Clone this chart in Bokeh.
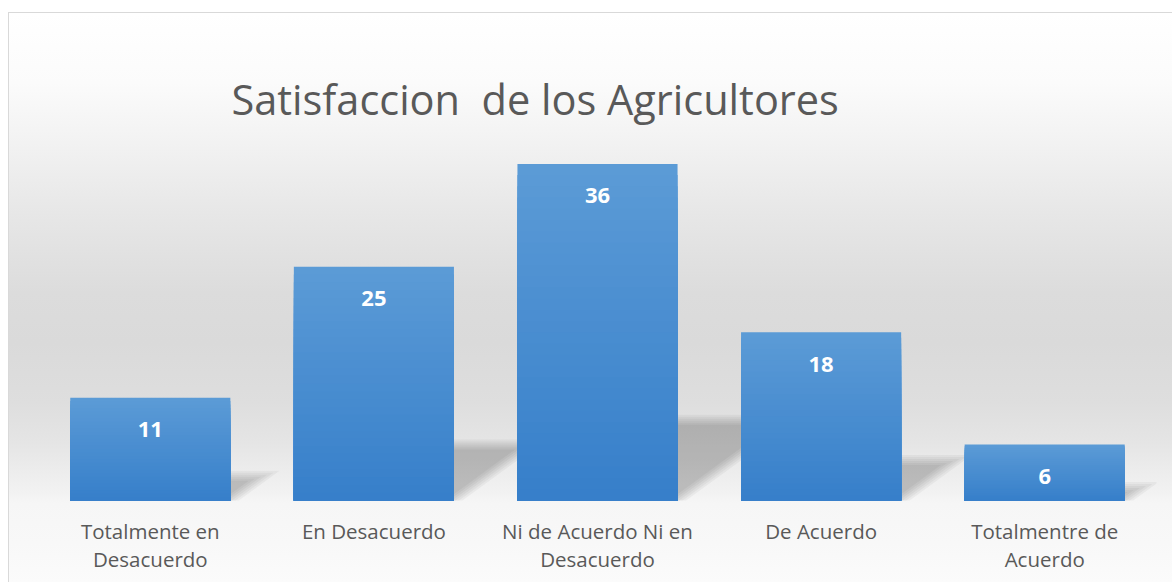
from bokeh.plotting import figure
from bokeh.models import FactorRange, Range1d, ColumnDataSource
from bokeh.core.properties import value
from bokeh.embed import file_html
from bokeh.resources import INLINE

categories = ["Totalmente en Desacuerdo", "En Desacuerdo", "Ni de Acuerdo Ni en Desacuerdo",
              "De Acuerdo", "Totalmentre de Acuerdo"]
tick_labels = ["Totalmente en\nDesacuerdo", "En Desacuerdo", "Ni de Acuerdo Ni en\nDesacuerdo",
               "De Acuerdo", "Totalmentre de\nAcuerdo"]
values = [11, 25, 36, 18, 6]
title_text = "Satisfaccion\u00a0 de los Agricultores"

W, H = 1172, 582
bg = ("linear-gradient(#d9d9d9,#d9d9d9) 8px 12px/100% 1px no-repeat,"
      "linear-gradient(#d9d9d9,#d9d9d9) 8px 12px/1px 100% no-repeat,"
      "linear-gradient(to bottom,#ffffff 0px,#fbfbfb 70px,#f2f2f2 130px,#e7e7e7 200px,"
      "#dcdcdc 280px,#dadada 330px,#dedede 390px,#e5e5e5 430px,#ededed 460px,#f2f2f2 480px,"
      "#f6f6f6 490px,#f8f8f8 530px,#fbfbfb 569px) 8px 13px/100% 100% no-repeat, #ffffff")

ppu = (500 - 126) / 40.0      # pixels per value unit
ppc = (1172 - 38 - 16) / 5.0  # pixels per category
p = figure(x_range=FactorRange(*categories, range_padding=0),
           y_range=Range1d(-(582 - 500) / ppu, 40),
           width=W, height=H, output_backend="svg", toolbar_location=None,
           min_border_left=38, min_border_right=16, min_border_top=126, min_border_bottom=0,
           styles={"background": bg})
p.border_fill_alpha = 0
p.background_fill_alpha = 0
p.outline_line_color = None
p.grid.visible = False
p.yaxis.visible = False
p.xaxis.visible = False

p.title.text = title_text
p.title.align = "left"
p.title.offset = 193
p.title.text_font = "Open Sans"
p.title.text_font_style = "normal"
p.title.text_font_size = "41.5px"
p.title.text_color = "#595959"
p.title.standoff = 0

# soft cast shadows (layered to fake a blur)
s = 0.73
half = 0.358
for d in [-5, -3, -1, 1, 3, 5]:
    xs, ys = [], []
    for c, v in zip(categories, values):
        t = v * ppu * 0.24
        top = t + d
        apex = (t + 2.25 * d) / s
        x0 = max(0.0, 1.25 * d / s)
        y0 = max(0.0, -1.25 * d)
        xs.append([(c, half), (c, half), (c, half + apex / ppc), (c, half + x0 / ppc)])
        ys.append([y0 / ppu, top / ppu, top / ppu, y0 / ppu])
    p.patches(xs=xs, ys=ys, fill_color="black", fill_alpha=0.038, line_color=None)

# gradient bars: overlapping layers, lightest (full height) first
N = 30
top_rgb = (0x5b, 0x9b, 0xd6)
bot_rgb = (0x37, 0x7f, 0xca)
for j in range(N - 1, -1, -1):
    f = j / (N - 1)
    col = "#%02x%02x%02x" % tuple(int(round(bot_rgb[i] + (top_rgb[i] - bot_rgb[i]) * f)) for i in range(3))
    tops = [v * (j + 1) / N for v in values]
    p.vbar(x=categories, bottom=0, top=tops, width=0.716, fill_color=col, line_color=None)

src = ColumnDataSource(dict(x=categories, y=values, t=[str(v) for v in values]))
p.text(x="x", y="y", text="t", source=src, text_align="center", text_baseline="middle",
       y_offset=32, text_color="white", text_font=value("Open Sans"), text_font_style="bold",
       text_font_size="22px")

# category labels (two lines) below the baseline
line1 = [s_.split("\n")[0] for s_ in tick_labels]
line2 = [s_.split("\n")[1] if "\n" in s_ else "" for s_ in tick_labels]
lab = ColumnDataSource(dict(x=categories, y=[0] * len(categories), l1=line1, l2=line2))
for col_name, off in [("l1", 30), ("l2", 58)]:
    p.text(x="x", y="y", text=col_name, source=lab, text_align="center", text_baseline="middle",
           y_offset=off, text_color="#595959", text_font=value("Open Sans"),
           text_font_size="20.5px")

open("out.html", "w").write(file_html(p, INLINE))
